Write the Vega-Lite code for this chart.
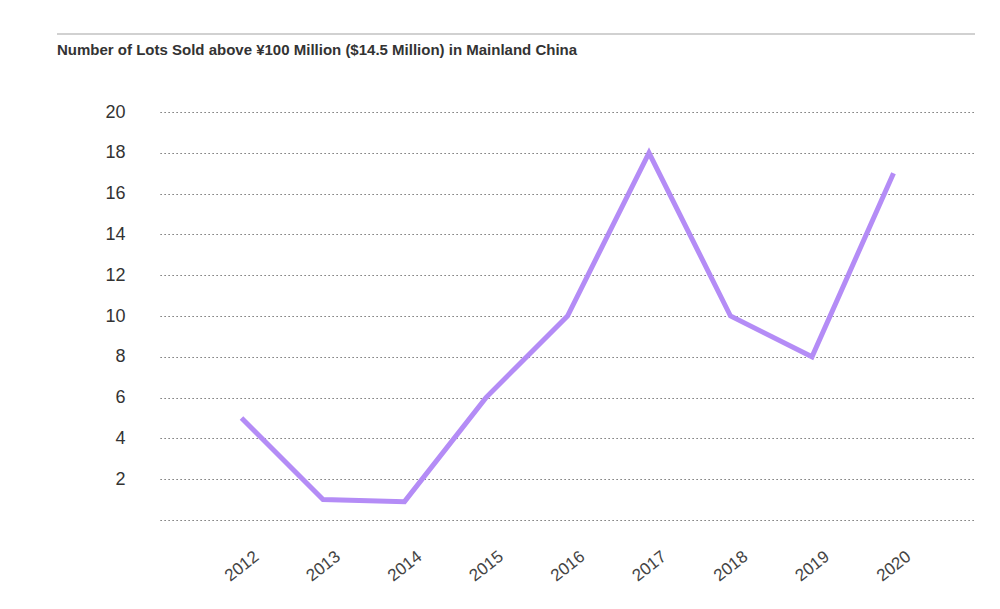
{
  "$schema": "https://vega.github.io/schema/vega-lite/v6.json",
  "width": 815,
  "height": 408,
  "autosize": {"type": "none"},
  "padding": {"left": 160, "right": 25, "top": 112, "bottom": 89},
  "background": "white",
  "title": {
    "text": "Number of Lots Sold above ¥100 Million ($14.5 Million) in Mainland China",
    "anchor": "start",
    "frame": "group",
    "dx": -103,
    "baseline": "alphabetic",
    "font": "Liberation Sans",
    "fontSize": 15,
    "fontWeight": "bold",
    "color": "#333333",
    "offset": -37
  },
  "config": {
    "view": {"stroke": null},
    "font": "Liberation Sans"
  },
  "data": {
    "values": [
      {"year": "2012", "lots": 5},
      {"year": "2013", "lots": 1},
      {"year": "2014", "lots": 0.9},
      {"year": "2015", "lots": 6},
      {"year": "2016", "lots": 10},
      {"year": "2017", "lots": 18},
      {"year": "2018", "lots": 10},
      {"year": "2019", "lots": 8},
      {"year": "2020", "lots": 17}
    ]
  },
  "resolve": {"scale": {"x": "independent"}, "axis": {"x": "independent"}},
  "layer": [
    {
      "mark": {"type": "rule", "color": "#d0d0d0", "strokeWidth": 1.5},
      "encoding": {
        "x": {"datum": -0.1264, "type": "quantitative", "scale": {"domain": [0, 1], "nice": false, "zero": false}, "axis": null},
        "x2": {"datum": 1},
        "y": {"datum": 23.82, "type": "quantitative"}
      }
    },
    {
      "mark": {"type": "line", "color": "#b48cf6", "strokeWidth": 5, "strokeJoin": "miter"},
      "encoding": {
        "x": {
          "field": "year",
          "type": "ordinal",
          "scale": {"type": "point", "padding": 1.05},
          "axis": {
            "title": null,
            "domain": false,
            "ticks": false,
            "labelAngle": -38,
            "labelAlign": "center",
            "labelBaseline": "middle",
            "labelPadding": 46,
            "labelFontSize": 17,
            "labelColor": "#444444",
            "labelOverlap": false
          }
        },
        "y": {
          "field": "lots",
          "type": "quantitative",
          "scale": {"domain": [0, 20], "nice": false},
          "axis": {
            "title": null,
            "domain": false,
            "ticks": false,
            "values": [0, 2, 4, 6, 8, 10, 12, 14, 16, 18, 20],
            "labelExpr": "datum.value == 0 ? '' : datum.label",
            "labelPadding": 35,
            "labelFontSize": 18,
            "labelColor": "#333333",
            "labelOverlap": false,
            "grid": true,
            "gridColor": "#555555",
            "gridDash": [1.2, 2.8],
            "gridWidth": 1.2
          }
        }
      }
    }
  ]
}
